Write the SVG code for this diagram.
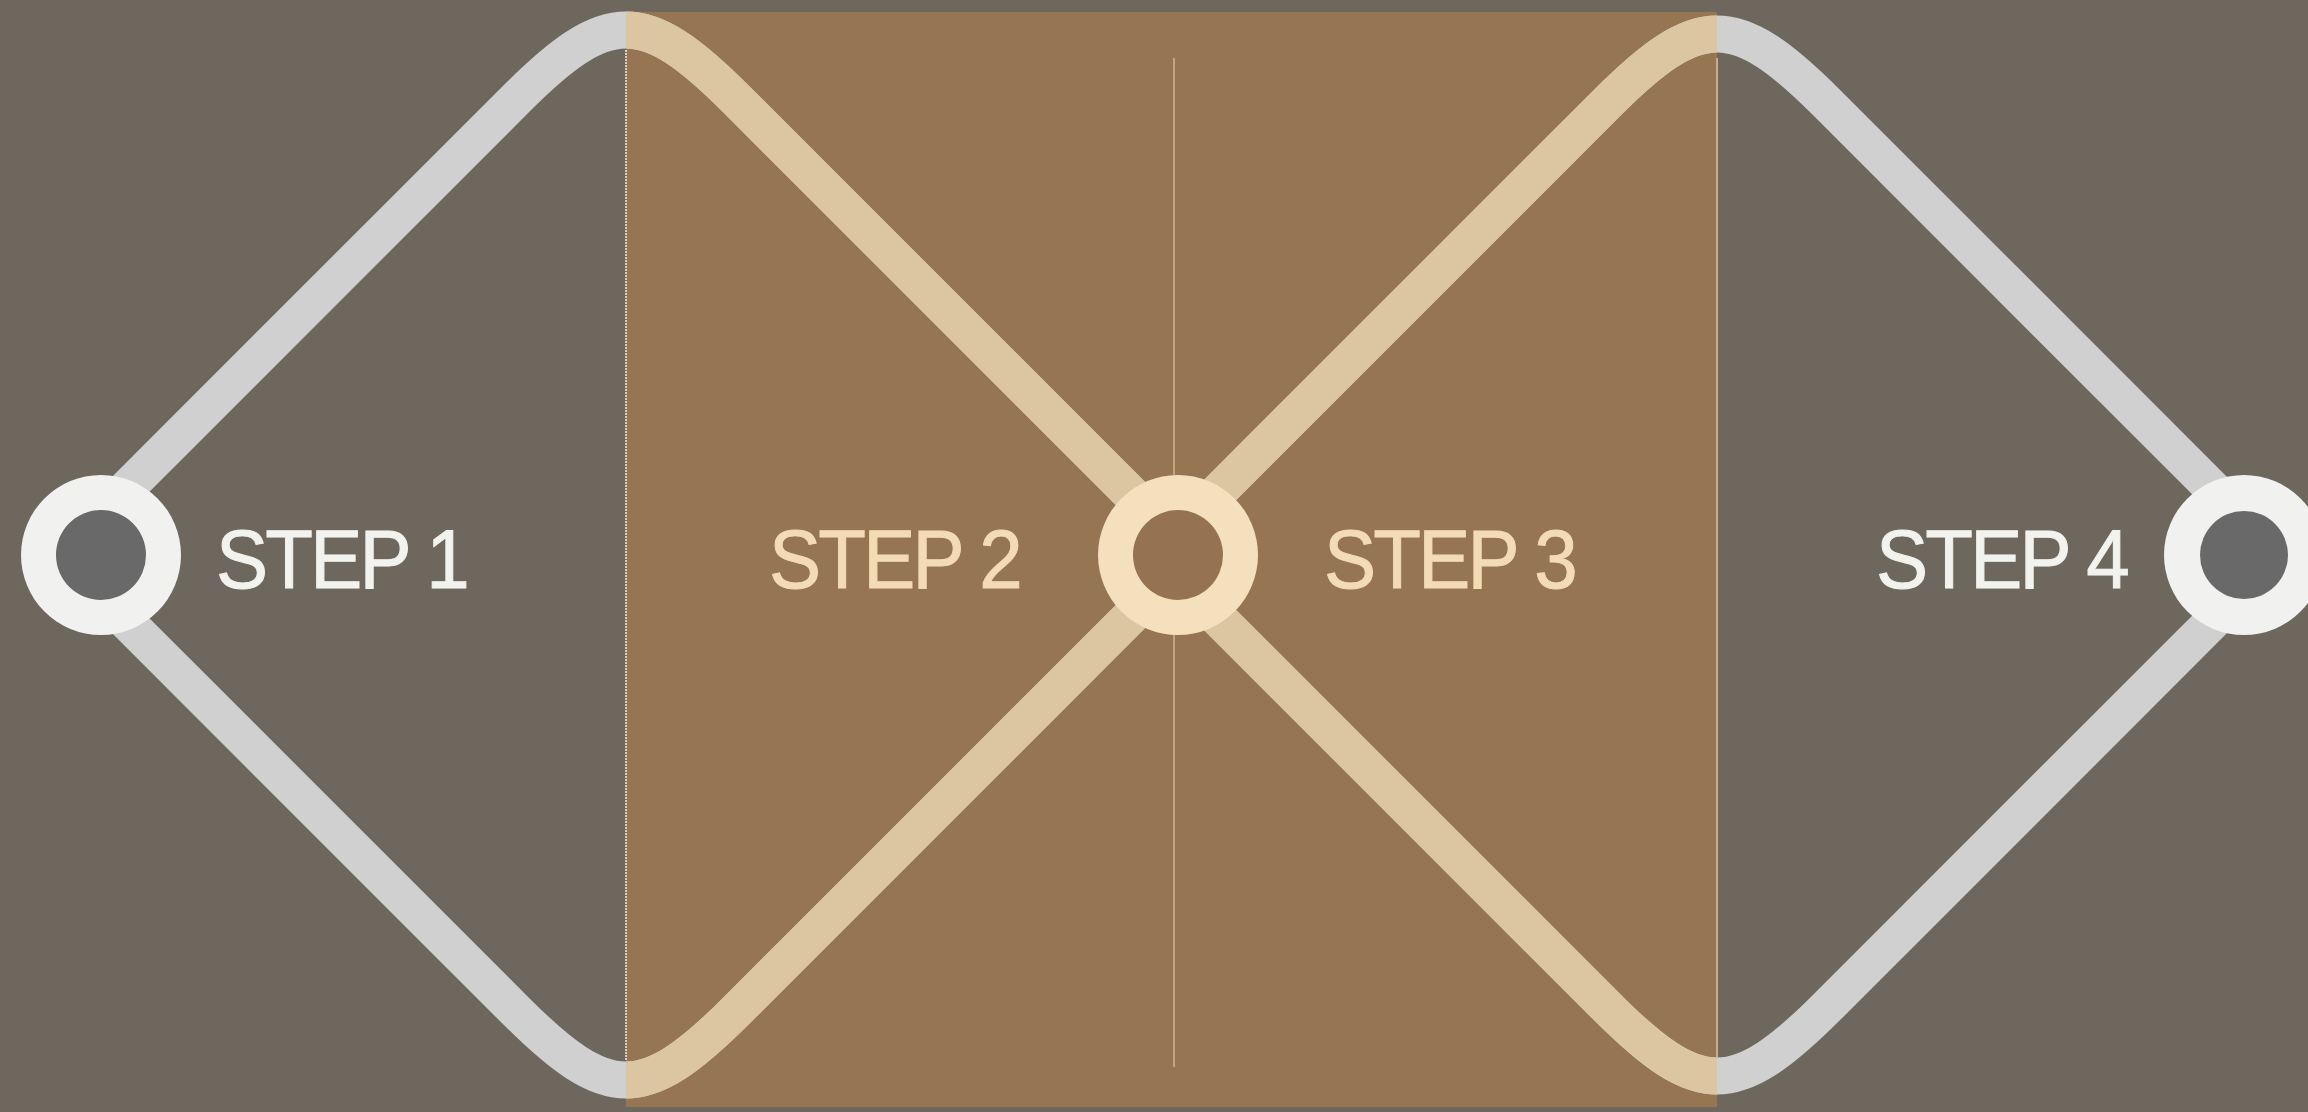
<svg xmlns="http://www.w3.org/2000/svg" width="2308" height="1112" viewBox="0 0 2308 1112">
<defs>
<style>
.wave{fill:none;stroke-width:37;stroke-linejoin:round}
.out{stroke:#cfd0cf}
.in{stroke:#dcc6a2}
.vline{stroke-width:2;fill:none}
.lbl{font-family:"Liberation Sans",Arial,sans-serif;font-size:84px;letter-spacing:-3px;stroke-width:1px}
.lw{fill:#f2f2ee;stroke:#f2f2ee}
.lc{fill:#f3dcb5;stroke:#f3dcb5}
</style>
<clipPath id="brownClip"><rect x="626" y="0" width="1091" height="1112"/></clipPath>
</defs>
<rect x="0" y="0" width="2308" height="1112" fill="#6d675d"/>
<rect id="band" x="626" y="12" width="1091" height="1095" fill="#967552"/>
<g id="dividers">
<line class="vline" x1="626" y1="50" x2="626" y2="1060" stroke="#d9cdbb" stroke-dasharray="2 1"/>
<line class="vline" x1="1174" y1="58" x2="1174" y2="1067" stroke="#c4a47e"/>
<line class="vline" x1="1717" y1="58" x2="1717" y2="1060" stroke="#c9ad88"/>
</g>
<g id="connectors">
<g class="wave out">
<path d="M115,500 L516,99 C608,7 644,7 736,99 L1150,513"/>
<path d="M115,610 L516,1011 C608,1103 644,1103 736,1011 L1150,597"/>
<path d="M1205,505 L1607,103 C1699,11 1735,11 1827,103 L2215,491"/>
<path d="M1205,605 L1607,1007 C1699,1099 1735,1099 1827,1007 L2215,619"/>
</g>
<g class="wave in" clip-path="url(#brownClip)">
<path d="M115,500 L516,99 C608,7 644,7 736,99 L1150,513"/>
<path d="M115,610 L516,1011 C608,1103 644,1103 736,1011 L1150,597"/>
<path d="M1205,505 L1607,103 C1699,11 1735,11 1827,103 L2215,491"/>
<path d="M1205,605 L1607,1007 C1699,1099 1735,1099 1827,1007 L2215,619"/>
</g>
</g>
<g id="node-step1">
<circle cx="101" cy="555" r="80" fill="#f1f1ef"/>
<circle cx="101" cy="555" r="45" fill="#6a6969"/>
<text class="lbl lw" transform="translate(216,588) scale(0.93,1)">STEP 1</text>
</g>
<g id="node-step2">
<text class="lbl lc" transform="translate(769,588) scale(0.93,1)">STEP 2</text>
</g>
<g id="node-center">
<circle cx="1178" cy="555" r="80" fill="#f4e0bd"/>
<circle cx="1178" cy="555" r="45" fill="#957350"/>
</g>
<g id="node-step3">
<text class="lbl lc" transform="translate(1324,588) scale(0.93,1)">STEP 3</text>
</g>
<g id="node-step4">
<text class="lbl lw" transform="translate(1876,588) scale(0.93,1)">STEP 4</text>
<circle cx="2244" cy="555" r="80" fill="#f1f1ef"/>
<circle cx="2244" cy="555" r="44" fill="#6a6969"/>
</g>
</svg>
